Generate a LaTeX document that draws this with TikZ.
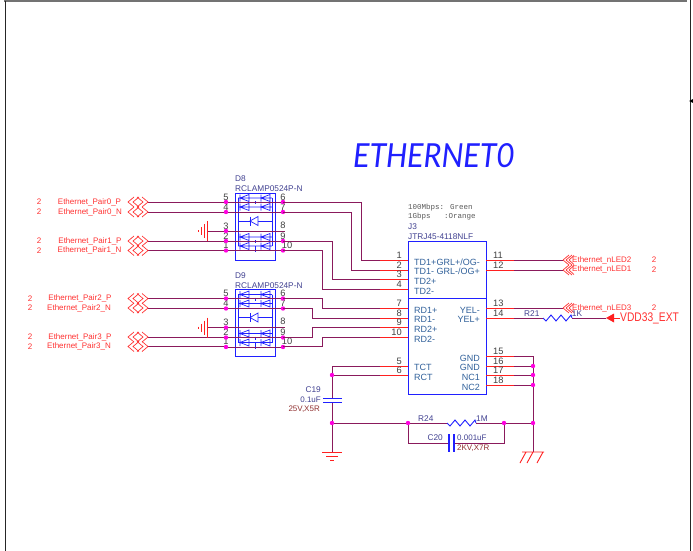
\documentclass[tikz,border=0pt]{standalone}
\usepackage{fontspec}
\setmainfont{Liberation Sans}
\newfontfamily\monof{Liberation Mono}
\newfontfamily\titlef{Carlito}
\definecolor{wirec}{HTML}{8A1A5C}
\definecolor{pinc}{HTML}{FF2020}
\definecolor{netc}{HTML}{FF3030}
\definecolor{partc}{HTML}{2020FF}
\definecolor{refc}{HTML}{404090}
\definecolor{pinname}{HTML}{30609A}
\definecolor{valc}{HTML}{903030}
\definecolor{dotc}{HTML}{FF00E0}
\tikzset{
  wire/.style={draw=wirec,line width=1pt},
  stub/.style={draw=pinc,line width=1pt},
  part/.style={draw=partc,line width=0.9pt},
  gnd/.style={draw=pinc,line width=0.7pt},
  dot/.style={circle,fill=dotc,inner sep=0pt,minimum size=4.4pt},
  nettxt/.style={text=netc,font=\fontsize{8}{9}\selectfont,inner sep=0pt},
  numtxt/.style={text=black!75,font=\fontsize{9.3}{10}\selectfont,inner sep=0pt},
  reftxt/.style={text=refc,font=\fontsize{8.3}{9}\selectfont,inner sep=0pt,anchor=west},
  pintxt/.style={text=pinname,font=\fontsize{9}{10}\selectfont,inner sep=0pt},
  valtxt/.style={text=valc,font=\fontsize{8}{9}\selectfont,inner sep=0pt},
  chev/.pic={\draw[draw=netc,line width=0.7pt] (-14,-5)--(-20,0)--(-14,5) (-9,-5)--(-15,0)--(-9,5) (-11,-5)--(-5,0)--(-11,5) (-6,-5)--(0,0)--(-6,5);},
  rchev/.pic={\draw[draw=netc,line width=0.7pt] (0,0)--(6,-5) (0,0)--(6,5) (3,0)--(9,-5) (3,0)--(9,5) (6,0)--(11,-4.5) (6,0)--(11,4.5);},
  tvsrow/.pic={\draw[partc,line width=0.7pt] (-17,0)--(17,0)
      (-15,-3.5)--(-15,3.5) (-15,0)--(-6,-3.5)--(-6,3.5)--cycle
      (6,0)--(15,-3.5)--(15,3.5)--cycle (6,-3.5)--(6,3.5);},
}
\newcommand{\tvs}[3]{%
  \node[reftxt] (#1ref) at (235,#2-23) {#3};
  \node[reftxt] (#1val) at (235,#2-13) {RCLAMP0524P-N};
  \draw[part] (235,#2-9) rectangle (275,#2+58);
  \draw[partc,line width=0.7pt] (238,#2-4) -- (238,#2+44) (272,#2-4) -- (272,#2+44)
     (238,#2+19)--(272,#2+19);
  \pic at (255,#2-4) {tvsrow};
  \pic at (255,#2+5) {tvsrow};
  \pic at (255,#2+35) {tvsrow};
  \pic at (255,#2+44) {tvsrow};
  \draw[partc,line width=0.9pt] (255,#2-1)--(255,#2+2) (255,#2+38)--(255,#2+41) (255,#2+44)--(255,#2+50);
  \draw[draw=partc,fill=white,line width=0.7pt] (250,#2+19)--(258,#2+14.5)--(258,#2+23.5)--cycle;
  \draw[partc,line width=0.7pt] (250,#2+14.5)--(250,#2+23.5);
}
\newcommand{\pinsleft}[1]{%
  \draw[wire] (207,#1+29)--(285,#1+29);
  \draw[wire] (226,#1+0)--(283,#1+0) (226,#1+10)--(283,#1+10) (226,#1+39)--(283,#1+39) (226,#1+48.5)--(283,#1+48.5);
  \node[numtxt] at (226,#1+0-5) {5}; \node[numtxt] at (226,#1+10-5) {4};
  \node[numtxt] at (226,#1+29-5) {3}; \node[numtxt] at (226,#1+39-5) {2}; \node[numtxt] at (226,#1+48-5) {1};
  \node[numtxt] at (283,#1+0-5) {6}; \node[numtxt] at (283,#1+10-5) {7};
  \node[numtxt] at (283,#1+29-6) {8}; \node[numtxt] at (283,#1+39-5) {9}; \node[numtxt] at (287,#1+48-5) {10};
  \foreach \yy in {0,10,29,39,48.5} {\node[dot] at (226,#1+\yy) {}; }
  \foreach \yy in {0,10,39,48.5} {\node[dot] at (283,#1+\yy) {}; }
  \draw[gnd,line width=0.9pt] (207,#1+19)--(207,#1+39);
  \draw[gnd] (204,#1+22)--(204,#1+36) (201,#1+25)--(201,#1+33) (198,#1+28)--(198,#1+30);
}
\begin{document}
\begin{tikzpicture}[x=1pt,y=-1pt]
\useasboundingbox (0,0) rectangle (693,551);
% frame
\draw[black!55,line width=2pt] (4,1)--(687,1);
\draw[black!85,line width=0.9pt] (5,1)--(5,551);
\draw[black!85,line width=0.9pt] (690,0)--(690,551);
\fill[black] (689,101) -- (693,99) -- (693,103) -- cycle;
% title
\node[text=partc,inner sep=0pt,anchor=base west] (title) at (353,167) {\scalebox{0.91}[1]{\titlef\fontsize{37}{38}\selectfont\itshape ETHERNET0}};
% nets left
\foreach \yy/\nm/\nx/\tx in {202/Ethernet\_Pair0\_P/89.5/39,212/Ethernet\_Pair0\_N/90/39,241/Ethernet\_Pair1\_P/90/39,250.5/Ethernet\_Pair1\_N/89.5/39,298.5/Ethernet\_Pair2\_P/80/30,308/Ethernet\_Pair2\_N/79/30,337/Ethernet\_Pair3\_P/80/30,346.5/Ethernet\_Pair3\_N/79/30}{
  \node[nettxt] at (\nx,\yy) {\nm};
  \node[nettxt] at (\tx,\yy) {2};
  \draw[wire] (148,\yy)--(226,\yy);
  \pic at (148,\yy) {chev};
}
% D8 D9
\tvs{dA}{202}{D8}
\tvs{dB}{298.5}{D9}
\pinsleft{202}
\pinsleft{298.5}
% J3
\node[text=black!65,font=\monof\fontsize{7.5}{8}\selectfont,inner sep=0pt,anchor=west] (note1) at (408,208) {100Mbps: Green};
\node[text=black!65,font=\monof\fontsize{7.5}{8}\selectfont,inner sep=0pt,anchor=west] (note2) at (408,217) {1Gbps\ \ \ :Orange};
\node[reftxt] (jref) at (408,227) {J3};
\node[reftxt] (jval) at (408,237) {JTRJ45-4118NLF};
\draw[part] (408,241) rectangle (486,394);
\draw[part] (408,298.5)--(486,298.5);
% wires to J3
\draw[wire] (283,202)--(361,202)--(361,260)--(381,260);
\draw[wire] (283,212)--(351,212)--(351,270)--(381,270);
\draw[wire] (283,241)--(332,241)--(332,279)--(381,279);
\draw[wire] (283,250.5)--(322,250.5)--(322,289)--(381,289);
\draw[wire] (283,298.5)--(322,298.5)--(322,308)--(381,308);
\draw[wire] (283,308)--(312,308)--(312,318)--(381,318);
\draw[wire] (283,337)--(312,337)--(312,327)--(381,327);
\draw[wire] (283,346.5)--(322,346.5)--(322,337)--(381,337);
\draw[wire] (332,366)--(380,366);
\draw[wire] (332,375)--(380,375);
% J3 left pins
\foreach \yy/\n in {260/1,270/2,279/3,289/4,308/7,318/8,327/9,337/10,366/5,375/6}{
  \draw[stub] (380,\yy)--(408,\yy);
  \node[numtxt,anchor=east] at (402,\yy-5) {\n};
}
\foreach \yy/\t in {262/TD1+,271/TD1-,281/TD2+,291/TD2-,310/RD1+,319/RD1-,329/RD2+,339/RD2-,367/TCT,377/RCT}{
  \node[pintxt,anchor=west] at (414,\yy) {\t};
}
% J3 right pins
\foreach \yy/\n in {260/11,270/12,308/13,318/14,356/15,366/16,375/17,385/18}{
  \draw[stub] (486,\yy)--(514,\yy);
  \node[numtxt,anchor=west] at (493,\yy-5) {\n};
}
\foreach \yy/\t in {310/YEL-,319/YEL+,358/GND,367/GND,377/NC1,387/NC2}{
  \node[pintxt,anchor=east] at (480,\yy) {\t};
}
\node[pintxt,anchor=east] (grla) at (480,262) {GRL+/OG-};
\node[pintxt,anchor=east] (grlb) at (480,271) {GRL-/OG+};
% nets right
\draw[wire] (514,260)--(563,260);
\draw[wire] (514,270)--(563,270);
\draw[wire] (514,308)--(563,308);
\pic at (563,260) {rchev};
\pic at (563,270) {rchev};
\pic at (563,308) {rchev};
\node[nettxt,anchor=west] (ln2) at (572,260) {Ethernet\_nLED2};
\node[nettxt,anchor=west] (ln1) at (572,269.5) {Ethernet\_nLED1};
\node[nettxt,anchor=west] (ln3) at (572,308) {Ethernet\_nLED3};
\node[nettxt] at (654,260) {2};
\node[nettxt] at (654,269.5) {2};
\node[nettxt] at (654,308) {2};
% R21
\draw[wire] (514,318)--(543,318);
\draw[partc,line width=0.9pt] (543,318)--(546,321)--(551,315)--(556,321)--(561,315)--(566,321)--(571,315)--(572,318);
\draw[wire] (572,318)--(606,318);
\fill[pinc] (606,318)--(614,313.5)--(614,322.5)--cycle;
\draw[pinc,line width=1pt] (614,318)--(620,318);
\node[reftxt] at (524,314) {R21};
\node[text=refc,font=\fontsize{8.3}{9}\selectfont,inner sep=0pt] at (577,314) {1K};
\node[text=netc,inner sep=0pt,anchor=west] (vdd) at (620,318.5) {\scalebox{0.82}[1]{\fontsize{12.5}{13}\selectfont VDD33\_EXT}};
% GND bus
\draw[wire] (514,356)--(533,356)--(533,452);
\draw[wire] (514,366)--(533,366) (514,375)--(533,375) (514,385)--(533,385);
% chassis ground
\draw[gnd,line width=0.9pt] (522,452)--(544,452) (526,452)--(520,463) (533,452)--(527,463) (543,452)--(537,463);
% left of J3 lower
\draw[wire] (332,366)--(332,398) (332,402)--(332,452);
\draw[part] (323,398)--(342,398) (323,402)--(342,402);
\draw[gnd] (322,452)--(342,452) (326,456.5)--(338,456.5) (330,460)--(334,460);
\node[reftxt,anchor=east] at (321,390) {C19};
\node[reftxt,anchor=east,font=\fontsize{8}{9}\selectfont] at (321,400) {0.1uF};
\node[valtxt,anchor=east] at (320,409.5) {25V,X5R};
% R24
\draw[wire] (332,423)--(447,423);
\draw[partc,line width=0.9pt] (447,423)--(450,426)--(455,420)--(460,426)--(465,420)--(470,426)--(475,420)--(476,423);
\draw[wire] (476,423)--(533,423);
\node[reftxt] at (418,419) {R24};
\node[text=refc,font=\fontsize{8.3}{9}\selectfont,inner sep=0pt] at (482,419) {1M};
% C20
\draw[wire] (408,423)--(408,443)--(448,443);
\draw[wire] (455,443)--(504,443)--(504,423);
\draw[part,line width=1.3pt] (449,434)--(449,452) (454,434)--(454,452);
\node[reftxt,anchor=east] at (443,438) {C20};
\node[reftxt,font=\fontsize{8}{9}\selectfont] at (457,438) {0.001uF};
\node[valtxt,anchor=west] at (457,448) {2KV,X7R};
% dots
\foreach \p in {(533,366),(533,375),(533,385),(533,423),(332,375),(332,423),(408,423),(504,423)}{\node[dot] at \p {};}
\end{tikzpicture}
\end{document}
